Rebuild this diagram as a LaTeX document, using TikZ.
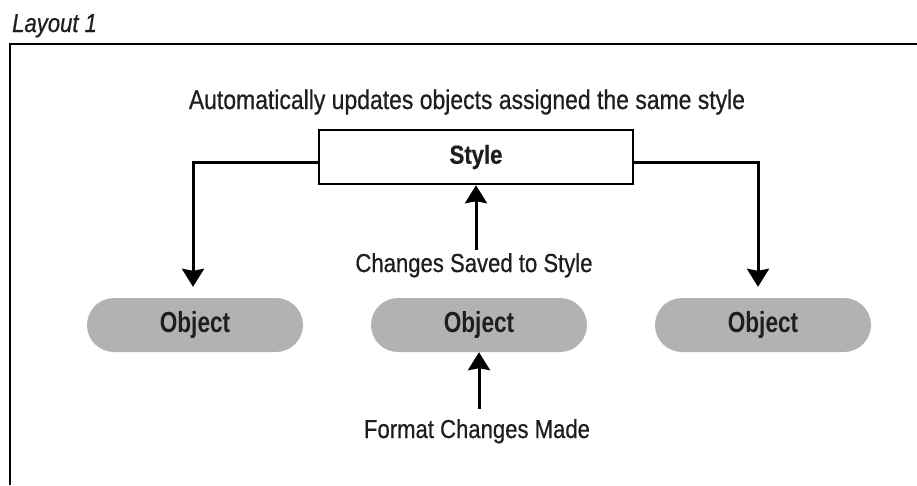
\documentclass[tikz,border=0pt]{standalone}
\usepackage{fontspec}
\setmainfont{Liberation Sans}[FakeStretch=0.85,FakeBold=0.6]
\newfontfamily\objfont{Liberation Sans}[FakeStretch=0.78]
\usetikzlibrary{arrows.meta}

\definecolor{inkgray}{RGB}{30,30,30}
\definecolor{pillgray}{RGB}{178,178,178}

\tikzset{
  lbl/.style={text=inkgray,inner sep=0pt,font=\fontsize{26}{30}\selectfont},
  stylebox/.style={draw=black,line width=2.5pt,fill=white,minimum width=314pt,
    minimum height=54pt,text=inkgray,font=\fontsize{26}{30}\selectfont\bfseries},
  obj/.style={fill=pillgray,rounded corners=27pt,minimum width=216pt,minimum height=54pt,
    text=inkgray,font=\objfont\fontsize{29}{34}\selectfont\bfseries},
  arr/.style={line width=3pt,-{Stealth[length=18pt,width=22pt,inset=2pt]}}
}

\begin{document}
\begin{tikzpicture}[x=1pt,y=-1pt]
\useasboundingbox (0,0) rectangle (917,485);

\node[lbl,anchor=base west] (title) at (12,32) {\itshape Layout 1};
\draw[line width=2.5pt] (10,485) |- (917,44);

\node[lbl,anchor=base,font=\fontsize{27}{32}\selectfont] (note) at (467,109) {Automatically updates objects assigned the same style};
\node[stylebox] (style) at (476,157) {Style};

\node[obj] (obj1) at (195,325) {Object};
\node[obj] (obj2) at (479,325) {Object};
\node[obj] (obj3) at (763,325) {Object};

\node[lbl,anchor=base] (saved) at (474,272) {Changes Saved to Style};
\node[lbl,anchor=base] (made) at (477,438) {Format Changes Made};

% fan out from the style box
\draw[arr,shorten >=11pt] ([yshift=-5pt]style.west) -| ([xshift=-2pt]obj1.north);
\draw[arr,shorten >=11pt] ([yshift=-5pt]style.east) -| ([xshift=-5pt]obj3.north);

\draw[arr] ([yshift=3pt]saved.north -| style.south) -- (style.south);
\draw[arr] ([yshift=10pt]made.north -| obj2.south) -- (obj2.south);
\end{tikzpicture}
\end{document}
